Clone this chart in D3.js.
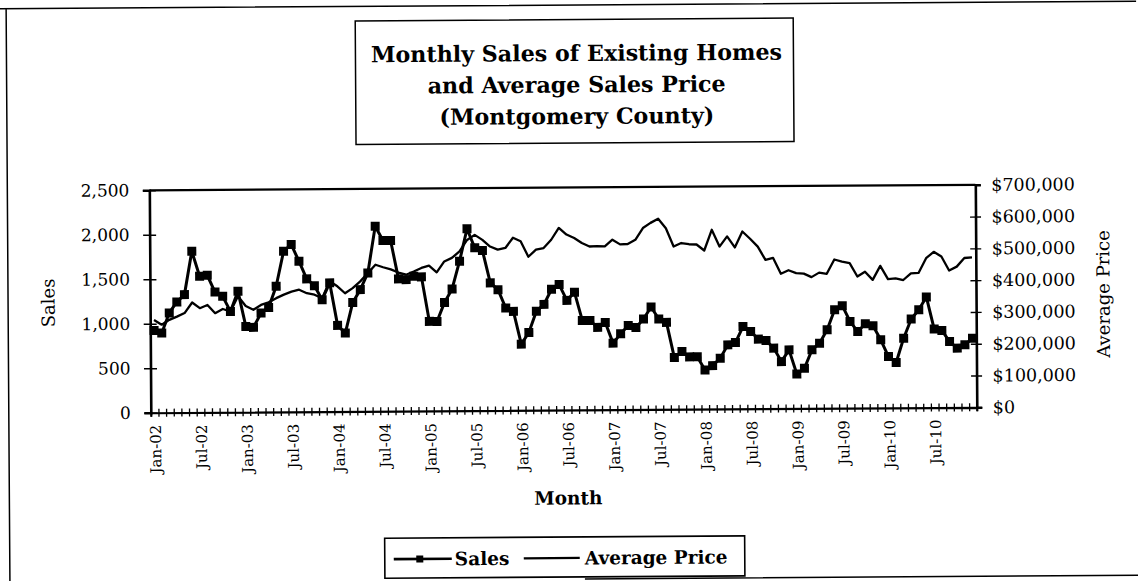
<!DOCTYPE html>
<html lang="en">
<head>
<meta charset="utf-8">
<title>Monthly Sales of Existing Homes and Average Sales Price</title>
<script src="https://cdn.jsdelivr.net/npm/d3@7"></script>
<style>
  body { margin: 0; background: #fff; }
  svg { display: block; }
  text { font-family: "DejaVu Serif", serif; fill: #000; }
</style>
</head>
<body>
<svg id="chart" width="1138" height="581"></svg>
<script>
// month labels shown on the category axis (every 6th month)
const tickLabels = ["Jan-02", "Jul-02", "Jan-03", "Jul-03", "Jan-04", "Jul-04", "Jan-05", "Jul-05", "Jan-06",
  "Jul-06", "Jan-07", "Jul-07", "Jan-08", "Jul-08", "Jan-09", "Jul-09", "Jan-10", "Jul-10"];

// monthly sales, Jan-02 .. Dec-10
const sales = [
  925, 895, 1120, 1243, 1325, 1812, 1530, 1541, 1352, 1303, 1133, 1358,
  963, 952, 1113, 1175, 1412, 1805, 1881, 1692, 1493, 1416, 1258, 1446,
  968, 881, 1225, 1368, 1555, 2080, 1919, 1918, 1486, 1477, 1515, 1507,
  1006, 1005, 1218, 1369, 1680, 2044, 1829, 1798, 1434, 1357, 1151, 1112,
  744, 874, 1111, 1189, 1358, 1410, 1232, 1322, 1005, 1004, 926, 981,
  748, 852, 946, 923, 1017, 1151, 1016, 977, 581, 649, 588, 588,
  440, 488, 571, 720, 745, 925, 868, 782, 766, 680, 528, 659,
  388, 452, 658, 732, 882, 1107, 1152, 974, 860, 947, 924, 766,
  577, 509, 782, 997, 1101, 1244, 882, 866, 741, 666, 703, 777
];

// average sales price, Jan-02 .. Dec-10
const avgPrice = [
  292000, 277000, 292000, 302000, 313000, 346000, 328000, 338000, 312000, 325000, 317000, 365000,
  334000, 322000, 337000, 345000, 358000, 369000, 378000, 384000, 373000, 368000, 357000, 410000,
  394000, 372000, 388000, 409000, 435000, 461000, 453000, 446000, 436000, 429000, 439000, 450000,
  457000, 436000, 470000, 481000, 501000, 537000, 553000, 537000, 516000, 506000, 511000, 543000,
  532000, 483000, 505000, 510000, 536000, 573000, 552000, 541000, 525000, 514000, 515000, 514000,
  535000, 520000, 521000, 534000, 571000, 587000, 600000, 570000, 512000, 523000, 519000, 518000,
  499000, 564000, 511000, 543000, 508000, 558000, 535000, 510000, 468000, 474000, 424000, 435000,
  426000, 424000, 413000, 427000, 423000, 468000, 461000, 456000, 414000, 429000, 403000, 447000,
  405000, 407000, 402000, 423000, 424000, 470000, 490000, 475000, 431000, 443000, 470000, 472000
];

const salesTicks = [0, 500, 1000, 1500, 2000, 2500];
const priceTicks = [0, 100000, 200000, 300000, 400000, 500000, 600000, 700000];

const W = 1138, H = 581;
const plot = { left: 150, right: 976, top: 187.5, bottom: 410 };

const svg = d3.select("#chart");
svg.append("rect").attr("width", W).attr("height", H).attr("fill", "#fff");

// the scanned original is slightly tilted
const root = svg.append("g").attr("transform", "rotate(-0.38,569,290)");

// page frame
root.append("path")
  .attr("d", "M0,5H1138M8,5V578M583,579H1138")
  .attr("fill", "none").attr("stroke", "#000").attr("stroke-width", 1.5);

// title box
root.append("rect")
  .attr("x", 357).attr("y", 19.5).attr("width", 438).attr("height", 123.5)
  .attr("fill", "none").attr("stroke", "#000").attr("stroke-width", 1.5);
const titleLines = ["Monthly Sales of Existing Homes", "and Average Sales Price", "(Montgomery County)"];
root.selectAll(".title").data(titleLines).enter().append("text")
  .attr("class", "title")
  .attr("x", 578).attr("y", (d, i) => 61 + i * 31.5)
  .attr("text-anchor", "middle")
  .attr("font-size", 22.2).attr("font-weight", "bold")
  .text(d => d);

// scales
const x = d3.scaleBand().domain(d3.range(sales.length)).range([plot.left, plot.right]);
const xc = i => x(i) + x.bandwidth() / 2;
const xb = d3.scaleLinear().domain([0, sales.length]).range([plot.left, plot.right]);
const ySales = d3.scaleLinear().domain([0, 2500]).range([plot.bottom, plot.top]);
const yPrice = d3.scaleLinear().domain([0, 700000]).range([plot.bottom, plot.top]);

// plot area top border
root.append("line")
  .attr("x1", plot.left).attr("x2", plot.right)
  .attr("y1", ySales(2500)).attr("y2", ySales(2500))
  .attr("stroke", "#000").attr("stroke-width", 2.2);

// category axis: tick marks on every month boundary
const xTicks = root.append("g")
  .attr("transform", "translate(0," + plot.bottom + ")")
  .call(d3.axisBottom(xb).tickValues(d3.range(sales.length + 1)).tickSize(4).tickFormat(""));
xTicks.select(".domain").attr("stroke-width", 2.2);
xTicks.selectAll(".tick line").attr("y1", -4).attr("stroke-width", 1.3);

// month labels
const xLab = root.append("g")
  .attr("transform", "translate(0," + plot.bottom + ")")
  .call(d3.axisBottom(x).tickValues(tickLabels.map((d, k) => k * 6)).tickSize(0).tickFormat(d => tickLabels[d / 6]));
xLab.select(".domain").remove();
xLab.attr("font-family", null).attr("font-size", 15);
xLab.selectAll("text")
  .attr("transform", "rotate(-90)")
  .attr("x", -12).attr("y", 1).attr("dy", "0.35em")
  .attr("text-anchor", "end");

// left axis (sales)
const yL = root.append("g")
  .attr("transform", "translate(" + plot.left + ",0)")
  .call(d3.axisLeft(ySales).tickValues(salesTicks).tickSize(6.5).tickPadding(13.5).tickFormat(d3.format(",")));
yL.attr("font-family", null).attr("font-size", 17);
yL.select(".domain").attr("stroke-width", 2.6);
yL.selectAll(".tick line").attr("x1", 6.5).attr("stroke-width", 1.4);

// right axis (price)
const yR = root.append("g")
  .attr("transform", "translate(" + plot.right + ",0)")
  .call(d3.axisRight(yPrice).tickValues(priceTicks).tickSize(5.5).tickPadding(10.5).tickFormat(d => "$" + d3.format(",")(d)));
yR.attr("font-family", null).attr("font-size", 17.5);
yR.select(".domain").attr("stroke-width", 2.6);
yR.selectAll(".tick line").attr("x1", -5.5).attr("stroke-width", 1.4);

// axis titles
root.append("text")
  .attr("transform", "translate(48,299.5) rotate(-90)")
  .attr("text-anchor", "middle").attr("dominant-baseline", "central")
  .attr("font-size", 18).text("Sales");
root.append("text")
  .attr("transform", "translate(1103,297.5) rotate(-90)")
  .attr("text-anchor", "middle").attr("dominant-baseline", "central")
  .attr("font-size", 18).text("Average Price");
root.append("text")
  .attr("x", 567).attr("y", 498)
  .attr("text-anchor", "middle").attr("dominant-baseline", "central")
  .attr("font-size", 18.5).attr("font-weight", "bold").text("Month");

// average price line
root.append("path")
  .datum(avgPrice)
  .attr("fill", "none").attr("stroke", "#000").attr("stroke-width", 2.3)
  .attr("stroke-linejoin", "round")
  .attr("d", d3.line().x((d, i) => xc(i)).y(d => yPrice(d)));

// sales line with square markers
root.append("path")
  .datum(sales)
  .attr("fill", "none").attr("stroke", "#000").attr("stroke-width", 3)
  .attr("stroke-linejoin", "round")
  .attr("d", d3.line().x((d, i) => xc(i)).y(d => ySales(d)));
root.selectAll(".mk").data(sales).enter().append("rect")
  .attr("class", "mk")
  .attr("x", (d, i) => xc(i) - 4.5).attr("y", d => ySales(d) - 4.5)
  .attr("width", 9).attr("height", 9)
  .attr("fill", "#000");

// legend
const lg = root.append("g");
lg.append("rect")
  .attr("x", 383).attr("y", 537).attr("width", 360).attr("height", 40)
  .attr("fill", "#fff").attr("stroke", "#000").attr("stroke-width", 1.6);
lg.append("line").attr("x1", 392).attr("x2", 450).attr("y1", 558).attr("y2", 558)
  .attr("stroke", "#000").attr("stroke-width", 2.6);
lg.append("rect").attr("x", 414.5).attr("y", 554.5).attr("width", 7).attr("height", 7).attr("fill", "#000");
lg.append("text").attr("x", 453).attr("y", 558).attr("dominant-baseline", "central")
  .attr("font-size", 18.5).attr("font-weight", "bold").text("Sales");
lg.append("line").attr("x1", 522).attr("x2", 578).attr("y1", 558).attr("y2", 558)
  .attr("stroke", "#000").attr("stroke-width", 2.3);
lg.append("text").attr("x", 583).attr("y", 558).attr("dominant-baseline", "central")
  .attr("font-size", 18.5).attr("font-weight", "bold").text("Average Price");
</script>
</body>
</html>
